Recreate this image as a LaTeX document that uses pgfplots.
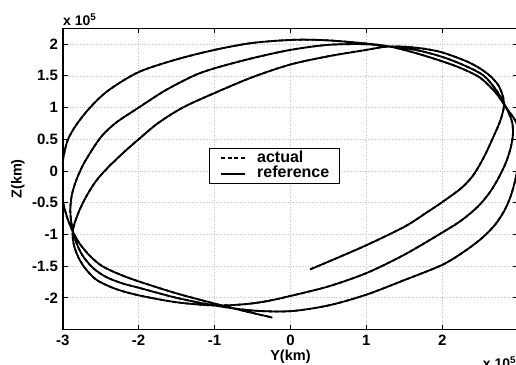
\documentclass[border=0pt]{standalone}
\usepackage{pgfplots}
\pgfplotsset{compat=1.18}
\usepackage{pgfplotstable}
\usepackage{fontspec}
\setmainfont{Liberation Sans}
\usetikzlibrary{calc}

% Spacecraft path in the Y-Z plane, units of 1e5 km, listed in time order
\pgfplotstableread{
Y Z
0.26 -1.55
0.50 -1.43
1.00 -1.17
1.50 -0.88
1.80 -0.65
2.00 -0.49
2.24 -0.28
2.38 -0.11
2.47 0.05
2.57 0.27
2.67 0.53
2.76 0.78
2.81 1.00
2.80 1.17
2.74 1.35
2.63 1.50
2.48 1.63
2.30 1.74
2.00 1.87
1.75 1.93
1.50 1.96
1.25 1.96
1.00 1.91
0.50 1.81
0.00 1.68
-0.50 1.48
-1.00 1.23
-1.42 1.00
-1.75 0.75
-2.00 0.50
-2.20 0.29
-2.40 0.06
-2.55 -0.14
-2.68 -0.38
-2.78 -0.62
-2.85 -0.85
-2.87 -1.00
-2.85 -1.18
-2.79 -1.37
-2.70 -1.54
-2.55 -1.72
-2.30 -1.86
-2.00 -1.96
-1.50 -2.07
-1.00 -2.12
-0.60 -2.10
-0.30 -2.05
0.00 -1.97
0.50 -1.82
1.00 -1.61
1.50 -1.32
2.00 -0.97
2.25 -0.78
2.47 -0.56
2.63 -0.33
2.75 -0.09
2.84 0.14
2.90 0.36
2.93 0.57
2.92 0.77
2.85 0.98
2.72 1.26
2.55 1.50
2.30 1.66
2.00 1.80
1.65 1.91
1.32 1.96
1.00 2.00
0.50 1.99
0.00 1.91
-0.50 1.78
-1.00 1.62
-1.28 1.50
-1.65 1.27
-2.00 1.00
-2.30 0.76
-2.48 0.56
-2.61 0.34
-2.73 0.10
-2.82 -0.14
-2.88 -0.38
-2.90 -0.62
-2.88 -0.86
-2.83 -1.10
-2.74 -1.33
-2.60 -1.53
-2.43 -1.67
-2.22 -1.77
-2.00 -1.84
-1.50 -2.00
-1.00 -2.12
-0.50 -2.20
0.00 -2.21
0.50 -2.12
1.00 -1.95
1.50 -1.72
2.00 -1.48
2.30 -1.26
2.53 -1.05
2.70 -0.84
2.82 -0.62
2.90 -0.40
2.96 -0.15
3.00 0.12
3.02 0.40
3.01 0.63
2.96 0.80
2.86 0.97
2.70 1.24
2.50 1.47
2.25 1.62
2.00 1.73
1.65 1.86
1.32 1.96
1.00 2.01
0.50 2.06
0.06 2.07
-0.50 2.02
-1.00 1.91
-1.50 1.76
-2.00 1.56
-2.40 1.27
-2.64 1.00
-2.82 0.73
-2.93 0.50
-2.98 0.28
-3.01 0.05
-3.02 -0.20
-3.00 -0.46
-2.95 -0.70
-2.88 -0.92
-2.78 -1.14
-2.64 -1.34
-2.48 -1.50
-2.25 -1.63
-2.00 -1.74
-1.50 -1.93
-1.00 -2.09
-0.60 -2.21
-0.24 -2.31
}\orbit

\begin{document}
\begin{tikzpicture}
\begin{axis}[
  scale only axis,
  width=455.5pt, height=301.2pt,
  xmin=-3, xmax=3, ymin=-2.5, ymax=2.25,
  xtick={-3,-2,-1,0,1,2,3},
  xticklabels={-3,-2,-1,0,1,2,{}},
  ytick={-2,-1.5,-1,-0.5,0,0.5,1,1.5,2},
  yticklabels={-2,-1.5,-1,-0.5,0,0.5,1,1.5,2},
  scaled ticks=false,
  tick align=inside,
  major tick length=5pt,
  tick style={line width=1pt, black},
  axis line style={line width=1.6pt},
  grid=major,
  major grid style={dotted, line width=0.8pt, gray!45},
  ticklabel style={font=\fontsize{15}{16}\selectfont\bfseries},
  xticklabel style={inner sep=0pt, yshift=-5.5pt},
  yticklabel style={inner sep=0pt, xshift=-4.5pt},
  xlabel={Y(km)}, ylabel={Z(km)},
  label style={font=\fontsize{14.5}{15}\selectfont\bfseries},
  xlabel style={at={(axis description cs:0.5,-0.1029)}, anchor=base},
  ylabel style={at={(axis description cs:-0.09,0.5)}, anchor=base},
  legend cell align=left,
  legend image code/.code={\path (0pt,0pt); \draw[#1] (8pt,0pt) -- (32pt,0pt); \path (43pt,0pt);},
  legend style={at={(axis cs:-1.073,0.363)}, anchor=north west,
    draw=black, line width=0.8pt, fill=white,
    font=\fontsize{16}{17}\selectfont\bfseries,
    nodes={inner sep=0pt, text height=11.5pt, text depth=3pt},
    inner xsep=3pt, inner ysep=2.5pt, row sep=1pt},
]
\addplot[black, line width=1.8pt, dash pattern=on 4pt off 2.5pt, smooth, tension=0.5] table[x=Y, y=Z] {\orbit};
\addlegendentry{actual}
\addplot[black, line width=1.8pt, smooth, tension=0.5] table[x=Y, y=Z] {\orbit};
\addlegendentry{reference\hspace*{7pt}}
\end{axis}
% power-of-ten factors of the axes
\node[anchor=base west, inner sep=0pt, font=\fontsize{14}{15}\selectfont\bfseries]
  at ($(current axis.north west)+(0.3pt,2.9pt)$) {x 10\textsuperscript{5}};
\node[anchor=north west, inner sep=0pt, font=\fontsize{14}{15}\selectfont\bfseries]
  at ($(current axis.south west)+(420pt,-27pt)$) {x 10\textsuperscript{5}};
\pgfresetboundingbox
\path ($(current axis.south west)+(-62.7pt,-34.5pt)$) rectangle ($(current axis.north east)+(-2.2pt,28.35pt)$);
\end{tikzpicture}
\end{document}
